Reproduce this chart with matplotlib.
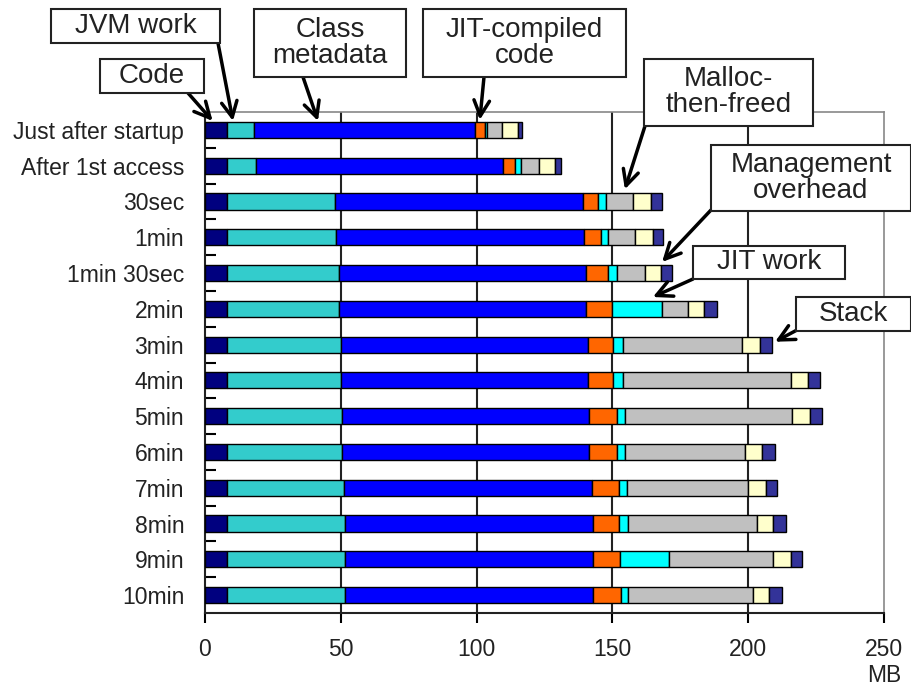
import numpy as np
import matplotlib.pyplot as plt
from matplotlib.patches import Rectangle

plt.rcParams['font.family'] = ['Liberation Sans', 'DejaVu Sans']

# ---------- dados (MB) ----------
labels = ['Just after startup', 'After 1st access', '30sec', '1min', '1min 30sec',
          '2min', '3min', '4min', '5min', '6min', '7min', '8min', '9min', '10min']

code      = [8.0, 8.0, 8.0, 8.0, 8.0, 8.0, 8.0, 8.0, 8.0, 8.0, 8.0, 8.0, 8.0, 8.0]
jvm_work  = [10.0, 10.6, 40.0, 40.2, 41.3, 41.3, 41.9, 41.9, 42.5, 42.5, 43.1, 43.7, 43.7, 43.7]
class_md  = [81.3, 91.1, 91.1, 91.5, 91.0, 91.0, 91.0, 91.0, 91.0, 91.0, 91.3, 91.3, 91.3, 91.3]
jit_code  = [3.7, 4.6, 5.5, 6.1, 8.2, 9.5, 9.5, 9.5, 10.1, 10.1, 9.9, 9.6, 9.8, 10.2]
jit_work  = [0.8, 1.9, 3.1, 2.7, 3.3, 18.3, 3.4, 3.4, 3.1, 3.1, 3.0, 3.3, 18.2, 2.7]
malloc    = [5.5, 6.7, 9.8, 9.8, 10.3, 9.6, 44.1, 61.9, 61.6, 44.1, 44.7, 47.3, 38.2, 45.9]
mgmt      = [5.9, 6.1, 6.7, 6.5, 5.8, 5.9, 6.5, 6.5, 6.4, 6.2, 6.5, 6.0, 6.5, 5.9]
stack     = [1.5, 1.9, 3.9, 4.0, 4.0, 4.9, 4.3, 4.1, 4.3, 4.9, 4.0, 4.6, 4.0, 4.7]

series = [code, jvm_work, class_md, jit_code, jit_work, malloc, mgmt, stack]
colors = ['#00007f', '#33cccc', '#0000ff', '#ff6600', '#00ffff', '#c0c0c0', '#ffffcc', '#333399']

W, H = 912, 689
fig = plt.figure(figsize=(W / 100, H / 100), dpi=100)
ax = fig.add_axes([205 / W, (H - 613) / H, (884 - 205) / W, (613 - 112) / H])

# ---------- barras empilhadas ----------
y = np.arange(len(labels))
left = np.zeros(len(labels))
for vals, col in zip(series, colors):
    ax.barh(y, vals, left=left, height=0.45, color=col, edgecolor='black',
            linewidth=1.0, zorder=3)
    left += np.array(vals)

ax.set_xlim(0, 250)
ax.set_ylim(len(labels) - 0.5, -0.5)
ax.set_xticks([0, 50, 100, 150, 200, 250])
ax.set_yticks(y)
ax.set_yticklabels(labels)
ax.set_yticks(np.arange(0.5, len(labels) - 1, 1), minor=True)
ax.tick_params(axis='y', which='major', length=0, pad=15, labelsize=16.5, labelcolor='#222222')
ax.tick_params(axis='y', which='minor', direction='in', length=8, width=1.5)
ax.tick_params(axis='x', direction='out', length=7, width=1.5, pad=11,
               labelsize=16.5, labelcolor='#222222')

for xv in [50, 100, 150, 200]:
    ax.axvline(xv, color='#222222', linewidth=1.5, zorder=1)

for s in ['left', 'bottom']:
    ax.spines[s].set_linewidth(1.5)
    ax.spines[s].set_color('#222222')
for s in ['top', 'right']:
    ax.spines[s].set_linewidth(1.2)
    ax.spines[s].set_color('#888888')

fig.text(884 / W, 1 - 676 / H, 'MB', ha='center', va='center', fontsize=16.5, color='#222222')


# ---------- caixas de legenda com setas ----------
def px(x, yy):
    return x / W, 1 - yy / H


def box(x0, y0, x1, y1, text):
    fx, fy = px(x0, y1)
    fig.patches.append(Rectangle((fx, fy), (x1 - x0) / W, (y1 - y0) / H,
                                 transform=fig.transFigure, facecolor='white',
                                 edgecolor='#222222', linewidth=1.5, zorder=5))
    cx, cy = px((x0 + x1) / 2, (y0 + y1) / 2)
    fig.text(cx, cy, text, ha='center', va='center', fontsize=20,
             linespacing=1.0, color='#222222', zorder=6)


def arrow(start, tip):
    ax.annotate('', xy=tip, xycoords='data',
                xytext=(start[0], H - start[1]), textcoords='figure pixels',
                arrowprops=dict(arrowstyle='->,head_length=0.7,head_width=0.35',
                                mutation_scale=16, lw=2.5, color='black',
                                shrinkA=0, shrinkB=0),
                annotation_clip=False, zorder=7)


box(51, 9, 220, 43, 'JVM work')
box(100, 59, 204, 93, 'Code')
box(254, 9, 406, 77, 'Class\nmetadata')
box(423, 9, 626, 77, 'JIT-compiled\ncode')
box(644, 59, 813, 126, 'Malloc-\nthen-freed')
box(711, 145, 911, 211, 'Management\noverhead')
box(693, 246, 845, 279, 'JIT work')
box(796, 297, 911, 331, 'Stack')

arrow((188, 93), (2.8, -0.25))
arrow((218, 43), (10.3, -0.25))
arrow((303, 77), (41.6, -0.25))
arrow((484, 77), (101.2, -0.28))
arrow((645, 126), (154.6, 1.66))
arrow((711, 210), (168.3, 3.69))
arrow((693, 279), (164.9, 4.67))
arrow((797, 330), (209.9, 5.92))

plt.savefig('out.png', dpi=100)
